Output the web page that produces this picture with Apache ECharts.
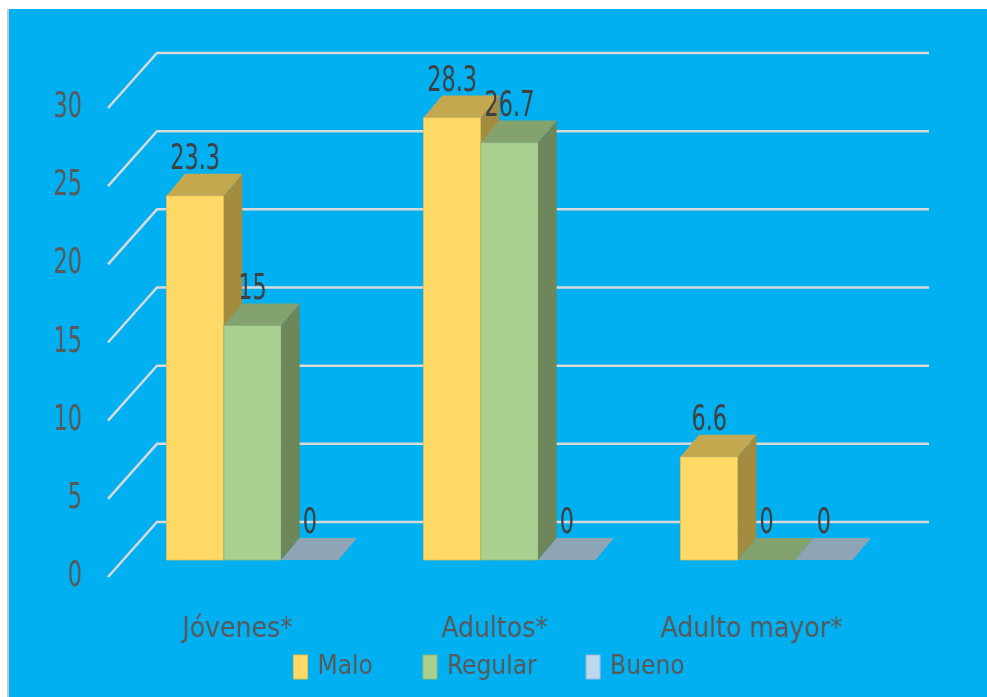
<!DOCTYPE html>
<html>
<head>
<meta charset="utf-8">
<script src="https://cdn.jsdelivr.net/npm/echarts@6/dist/echarts.min.js"></script>
<style>
  html, body { margin: 0; padding: 0; background: #ffffff; }
  #chart { width: 987px; height: 697px; }
</style>
</head>
<body>
<div id="chart"></div>
<script>
// ---- data ----
const categories = ['Jóvenes*', 'Adultos*', 'Adulto mayor*'];
const seriesNames = ['Malo', 'Regular', 'Bueno'];
const malo = [23.3, 28.3, 6.6];
const regular = [15, 26.7, 0];
const bueno = [0, 0, 0];
const yTicks = [0, 5, 10, 15, 20, 25, 30];

// ---- style ----
const FONT = '"DejaVu Sans Condensed", "DejaVu Sans", sans-serif';
const TEXT = '#595959';
const BAR_FRAC = 0.223;
const DEPTH = [18.5, -22];       // bar depth offset
const FLOOR_FRONT = [-16, 17];   // floor front edge offset from bar plane
const FLOOR_BACK = [33, -38];    // back wall offset from bar plane
const palette = [
  { front: '#FFD966', top: '#C4A850', side: '#A38C40', border: '#E6C24F' },
  { front: '#A9D08E', top: '#83A26E', side: '#6D875A', border: '#93B879' },
  { front: '#BDD7EE', top: '#8FA5B5', side: '#7F93A3', border: '#9DBBD6' }
];
const legendWidths = { Malo: 56, Regular: 86, Bueno: 72 };

function barRenderer(idx) {
  const c = palette[idx];
  return function (params, api) {
    const ci = api.value(0), v = api.value(1);
    const base = api.coord([ci, 0]);
    const tp = api.coord([ci, v]);
    const bw = api.size([1, 0])[0] * BAR_FRAC;
    const cx = base[0] + (idx - 1) * bw;
    const x0 = cx - bw / 2, x1 = cx + bw / 2;
    const y0 = base[1], y1 = tp[1];
    const dx = DEPTH[0], dy = DEPTH[1];
    const children = [];
    if (v > 0) {
      children.push({ type: 'polygon', shape: { points: [[x0, y1], [x1, y1], [x1, y0], [x0, y0]] },
        style: { fill: c.front, stroke: c.border, lineWidth: 0.8 } });
      children.push({ type: 'polygon', shape: { points: [[x1, y1], [x1 + dx, y1 + dy], [x1 + dx, y0 + dy], [x1, y0]] },
        style: { fill: c.side } });
    }
    children.push({ type: 'polygon', shape: { points: [[x0, y1], [x1, y1], [x1 + dx, y1 + dy], [x0 + dx, y1 + dy]] },
      style: { fill: c.top } });
    children.push({ type: 'text', x: cx, y: y1 + dy + 1, scaleX: 0.71, style: {
      text: String(v), align: 'center', verticalAlign: 'bottom',
      fontFamily: FONT, fontSize: 35, lineHeight: 30, fill: '#404040' } });
    return { type: 'group', children: children };
  };
}

function gridRenderer(params, api) {
  const v = api.value(1);
  const p = api.coord([0, v]);
  const cs = params.coordSys;
  const left = cs.x, right = cs.x + cs.width, y = p[1];
  return {
    type: 'group',
    children: [
      { type: 'polyline',
        shape: { points: [[left + FLOOR_FRONT[0], y + FLOOR_FRONT[1]], [left + FLOOR_BACK[0], y + FLOOR_BACK[1]], [right + FLOOR_BACK[0] + 1, y + FLOOR_BACK[1]]] },
        style: { stroke: '#D9D9D9', lineWidth: 2.5, fill: null } },
      { type: 'text', x: left - 42, y: y + FLOOR_FRONT[1], scaleX: 0.71,
        style: { text: String(v), align: 'right', verticalAlign: 'middle',
          fontFamily: FONT, fontSize: 35, fill: TEXT } }
    ]
  };
}

const seriesData = [malo, regular, bueno];
const chart = echarts.init(document.getElementById('chart'), null, { renderer: 'canvas' });
chart.setOption({
  backgroundColor: '#00B0F0',
  animation: false,
  grid: { left: 124, right: 92, top: 91, bottom: 137, containLabel: false },
  xAxis: {
    type: 'category', data: categories,
    axisLine: { show: false }, axisTick: { show: false }, splitLine: { show: false },
    axisLabel: { interval: 0, hideOverlap: false, color: TEXT, fontFamily: FONT, fontSize: 28, lineHeight: 32, margin: 54,
      formatter: v => '{c|' + v + '}', rich: { c: { color: TEXT, fontFamily: FONT, fontSize: 28, lineHeight: 32, padding: [0, 30, 0, 0] } } }
  },
  yAxis: {
    type: 'value', min: 0, max: 30, interval: 5,
    axisLine: { show: false }, axisTick: { show: false }, splitLine: { show: false },
    axisLabel: { show: false }
  },
  legend: {
    data: seriesNames.map((n, i) => ({ name: n, itemStyle: { color: palette[i].front, borderColor: palette[i].border, borderWidth: 1 } })),
    left: 293, top: 653, padding: 0, icon: 'rect', itemWidth: 14, itemHeight: 24, itemGap: 49,
    formatter: n => '{' + n + '|' + n + '}',
    textStyle: {
      color: TEXT, fontFamily: FONT, fontSize: 26, lineHeight: 28,
      rich: Object.fromEntries(seriesNames.map(n => [n, { color: TEXT, fontFamily: FONT, fontSize: 26, lineHeight: 28, width: legendWidths[n], padding: [0, 0, 0, 5] }]))
    }
  },
  graphic: [
    { type: 'rect', shape: { x: 0, y: 0, width: 987, height: 9 }, style: { fill: '#ffffff' }, z: 100 },
    { type: 'rect', shape: { x: 0, y: 0, width: 7, height: 697 }, style: { fill: '#ffffff' }, z: 100 },
    { type: 'rect', shape: { x: 7, y: 9, width: 2, height: 688 }, style: { fill: '#C8C8C8' }, z: 100 }
  ],
  series: [
    { type: 'custom', name: '_grid', silent: true, z: 1, renderItem: gridRenderer,
      data: yTicks.map(v => [0, v]) }
  ].concat(seriesNames.map((n, i) => ({
    type: 'custom', name: n, z: 2 + i, renderItem: barRenderer(i),
    itemStyle: { color: palette[i].front },
    data: seriesData[i].map((v, ci) => [ci, v])
  })))
});
</script>
</body>
</html>
